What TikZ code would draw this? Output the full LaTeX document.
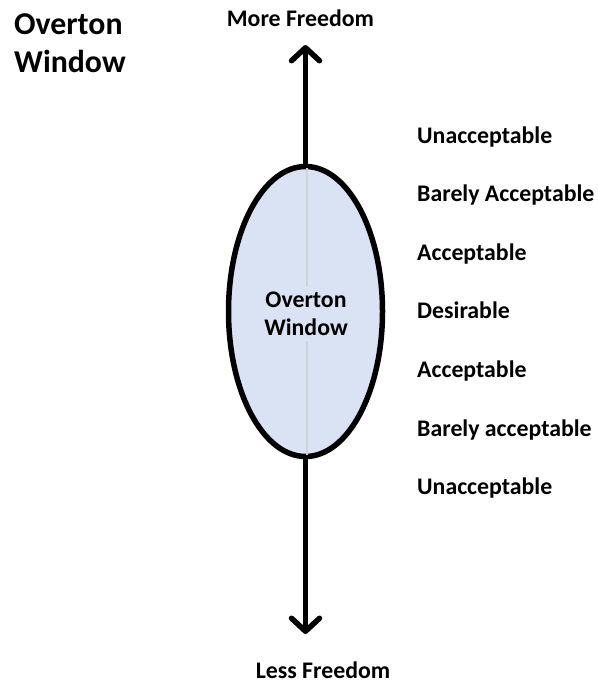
\documentclass[tikz,border=0pt]{standalone}
\usepackage{fontspec}
\setmainfont{Carlito}
\usetikzlibrary{shapes.geometric,arrows.meta}
\definecolor{winfill}{HTML}{DAE3F3}
\definecolor{winline}{HTML}{CDD3DD}
\begin{document}
\begin{tikzpicture}[x=1pt,y=-1pt,
  lbl/.style={anchor=base west,inner sep=0pt,font=\fontsize{23.8}{28.5}\selectfont\bfseries},
  axislbl/.style={anchor=base,inner sep=0pt,font=\fontsize{23.8}{28.5}\selectfont\bfseries},
  titlelbl/.style={anchor=base west,inner sep=0pt,font=\fontsize{31.8}{38}\selectfont\bfseries},
  axisarrow/.style={line width=5.5pt,-{Straight Barb[length=13pt,width=28pt,round]}},
  winshape/.style={ellipse,draw,line width=5.5pt,fill=winfill,minimum width=154pt,minimum height=290pt,inner sep=0pt}]
\useasboundingbox (0,0) rectangle (597,684);
% title
\node[titlelbl] (title1) at (14,35) {Overton};
\node[titlelbl] (title2) at (14,73) {Window};
% axis labels
\node[axislbl] (more) at (300.5,27) {More Freedom};
\node[axislbl] (less) at (323,678) {Less Freedom};
% window
\node[winshape] (win) at (305.5,311.5) {};
\draw[winline,line width=2pt] (307,168) -- (307,455);
\node[fill=winfill,inner xsep=2pt,inner ysep=5pt,align=center,font=\fontsize{23.8}{28}\selectfont\bfseries] (wtext) at (306,314) {Overton\\Window};
% arrows
\coordinate (toptip) at (305.5,45);
\coordinate (bottip) at (305.5,634);
\draw[axisarrow] (win.north) -- (toptip);
\draw[axisarrow] (win.south) -- (bottip);
% scale labels
\node[lbl] (l1) at (417,144) {Unacceptable};
\node[lbl] (l2) at (417,202) {Barely Acceptable};
\node[lbl] (l3) at (417,261) {Acceptable};
\node[lbl] (l4) at (417,318.5) {Desirable};
\node[lbl] (l5) at (417,377) {Acceptable};
\node[lbl] (l6) at (417,436) {Barely acceptable};
\node[lbl] (l7) at (417,494) {Unacceptable};
\end{tikzpicture}
\end{document}
